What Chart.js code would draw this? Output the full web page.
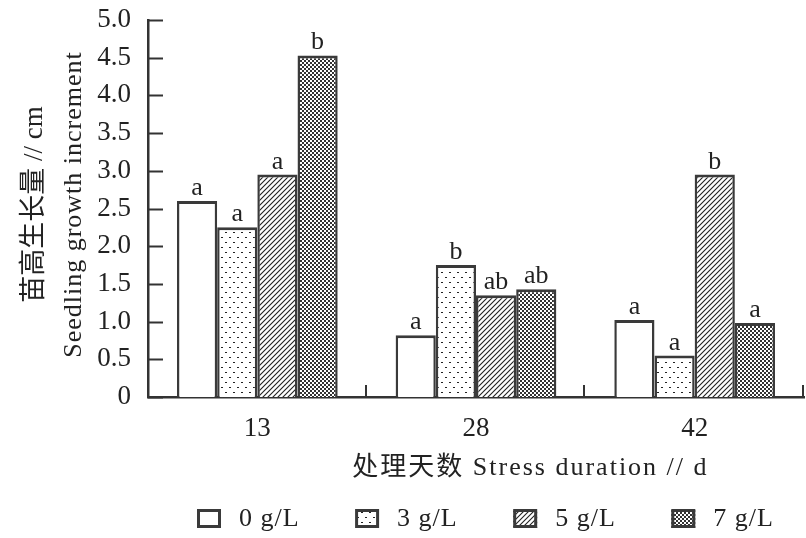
<!DOCTYPE html>
<html lang="zh">
<head>
<meta charset="UTF-8" />
<title>苗高生长量 Seedling growth increment</title>
<script src="https://cdn.jsdelivr.net/npm/chart.js"></script>
<style>
  html, body { margin: 0; padding: 0; background: #fff; }
  #wrap { width: 806px; height: 538px; position: relative; }
</style>
</head>
<body>
<div id="wrap"><canvas id="chart"></canvas></div>
<script>
  // data
  const days = ['13', '28', '42'];
  const seriesNames = ['0 g/L', '3 g/L', '5 g/L', '7 g/L'];
  const salt0 = [2.60, 0.82, 1.02];
  const salt3 = [2.25, 1.75, 0.55];
  const salt5 = [2.95, 1.35, 2.95];
  const salt7 = [4.53, 1.43, 0.98];
  const letters0 = ['a', 'a', 'a'];
  const letters3 = ['a', 'b', 'a'];
  const letters5 = ['a', 'ab', 'b'];
  const letters7 = ['b', 'ab', 'a'];
  const yTickLabels = ['0', '0.5', '1.0', '1.5', '2.0', '2.5', '3.0', '3.5', '4.0', '4.5', '5.0'];
  const yTitleCn = '苗高生长量 // cm';
  const yTitleEn = 'Seedling growth increment';
  const xTitle = '处理天数 Stress duration // d';

  const serif = "'Liberation Serif', 'Noto Sans CJK SC', serif";
  const ink = '#222';
  const edge = '#3a3a3a';

  function makePattern(kind) {
    const c = document.createElement('canvas');
    const g = c.getContext('2d');
    if (kind === 'plain') {
      c.width = 4; c.height = 4;
      g.fillStyle = '#fff'; g.fillRect(0, 0, 4, 4);
    } else if (kind === 'dots') {
      c.width = 8; c.height = 10;
      g.fillStyle = '#fff'; g.fillRect(0, 0, 8, 10);
      g.fillStyle = '#222';
      g.fillRect(1, 2, 2, 1);
      g.fillRect(5, 7, 2, 1);
    } else if (kind === 'hatch') {
      c.width = 5; c.height = 5;
      g.fillStyle = '#fff'; g.fillRect(0, 0, 5, 5);
      g.strokeStyle = '#222'; g.lineWidth = 1.1;
      g.beginPath();
      g.moveTo(-1, 6); g.lineTo(6, -1);
      g.moveTo(-1, 1); g.lineTo(1, -1);
      g.moveTo(4, 6); g.lineTo(6, 4);
      g.stroke();
    } else {
      c.width = 4; c.height = 4;
      g.fillStyle = '#fff'; g.fillRect(0, 0, 4, 4);
      g.fillStyle = '#333';
      g.fillRect(0, 0, 2, 2);
      g.fillRect(2, 2, 2, 2);
    }
    return g.createPattern(c, 'repeat');
  }

  const fills = [makePattern('plain'), makePattern('dots'), makePattern('hatch'), makePattern('check')];
  const values = [salt0, salt3, salt5, salt7];
  const letters = [letters0, letters3, letters5, letters7];

  const datasets = seriesNames.map((name, i) => ({
    label: name,
    data: values[i],
    letters: letters[i],
    backgroundColor: fills[i],
    borderColor: edge,
    borderWidth: { top: 3, left: 2.5, right: 2.5, bottom: 0 },
    borderSkipped: false,
    barPercentage: 1.0,
    categoryPercentage: 0.735
  }));

  // significance letters above each bar
  const letterPlugin = {
    id: 'letters',
    afterDatasetsDraw(chart) {
      const ctx = chart.ctx;
      ctx.save();
      ctx.font = '26px ' + serif;
      ctx.fillStyle = ink;
      ctx.textAlign = 'center';
      ctx.textBaseline = 'alphabetic';
      chart.data.datasets.forEach((ds, i) => {
        chart.getDatasetMeta(i).data.forEach((bar, j) => {
          ctx.fillText(ds.letters[j], bar.x, bar.y - 6);
        });
      });
      ctx.restore();
    }
  };

  // inward ticks on both axes
  const axisTicks = {
    id: 'axisTicks',
    afterDraw(chart) {
      const { ctx, chartArea: a } = chart;
      const y = chart.scales.y;
      ctx.save();
      ctx.strokeStyle = '#333';
      ctx.lineWidth = 2;
      y.ticks.forEach(t => {
        const py = Math.round(y.getPixelForValue(t.value)) + 0.5;
        ctx.beginPath();
        ctx.moveTo(a.left, py);
        ctx.lineTo(a.left + 15, py);
        ctx.stroke();
      });
      const step = (a.right - a.left) / days.length;
      for (let i = 1; i <= days.length; i++) {
        const px = Math.round(a.left + i * step) - 1;
        ctx.beginPath();
        ctx.moveTo(px, a.bottom);
        ctx.lineTo(px, a.bottom - 12);
        ctx.stroke();
      }
      ctx.restore();
    }
  };

  // axis titles, drawn by hand to get the spacing of the figure
  const axisTitles = {
    id: 'axisTitles',
    afterDraw(chart) {
      const { ctx, chartArea: a } = chart;
      const midY = (a.top + a.bottom) / 2;
      ctx.save();
      ctx.fillStyle = ink;
      ctx.textAlign = 'center';
      ctx.textBaseline = 'middle';

      ctx.save();
      ctx.translate(35, midY - 4);
      ctx.rotate(-Math.PI / 2);
      ctx.font = '27px ' + serif;
      ctx.fillText(yTitleCn, 0, 0);
      ctx.restore();

      ctx.save();
      ctx.translate(74, midY - 4);
      ctx.rotate(-Math.PI / 2);
      ctx.font = '26px ' + serif;
      ctx.letterSpacing = '1px';
      ctx.fillText(yTitleEn, 0, 0);
      ctx.restore();

      ctx.font = '26px ' + serif;
      ctx.letterSpacing = '2px';
      ctx.fillText(xTitle, a.left + (a.right - a.left) * 0.583, a.bottom + 71);
      ctx.restore();
    }
  };

  // legend row under the axis title
  const legendRow = {
    id: 'legendRow',
    afterDraw(chart) {
      const { ctx, chartArea: a } = chart;
      const gap = (a.right - a.left) * 0.241;
      const cy = chart.height - 20;
      ctx.save();
      ctx.font = '26px ' + serif;
      ctx.letterSpacing = '1px';
      ctx.textBaseline = 'middle';
      ctx.textAlign = 'left';
      chart.data.datasets.forEach((ds, i) => {
        const bx = a.left + 49 + i * gap;
        ctx.fillStyle = ds.backgroundColor;
        ctx.fillRect(bx, cy - 9, 24, 19);
        ctx.strokeStyle = edge;
        ctx.lineWidth = 3;
        ctx.strokeRect(bx + 1.5, cy - 7.5, 21, 16);
        ctx.fillStyle = ink;
        ctx.fillText(ds.label, bx + 42, cy + 1);
      });
      ctx.restore();
    }
  };

  new Chart(document.getElementById('chart'), {
    type: 'bar',
    data: { labels: days, datasets: datasets },
    options: {
      responsive: true,
      maintainAspectRatio: false,
      animation: false,
      layout: { padding: { top: 20, right: 2, bottom: 48, left: 0 } },
      plugins: {
        legend: { display: false },
        tooltip: { enabled: false }
      },
      scales: {
        x: {
          grid: { display: false },
          border: { display: true, color: '#333', width: 2.5 },
          ticks: { color: ink, font: { family: serif, size: 27 }, padding: 8 },
          afterFit(scale) { scale.height = 93; }
        },
        y: {
          min: 0,
          max: 5,
          grid: { display: false },
          border: { display: true, color: '#333', width: 2.5 },
          ticks: {
            stepSize: 0.5,
            color: ink,
            font: { family: serif, size: 27 },
            padding: 9,
            callback: (v, i) => yTickLabels[i]
          },
          afterFit(scale) {
            scale.width = 148;
            scale.paddingTop = 0;
            scale.paddingBottom = 0;
          }
        }
      }
    },
    plugins: [letterPlugin, axisTicks, axisTitles, legendRow]
  });
</script>
</body>
</html>
